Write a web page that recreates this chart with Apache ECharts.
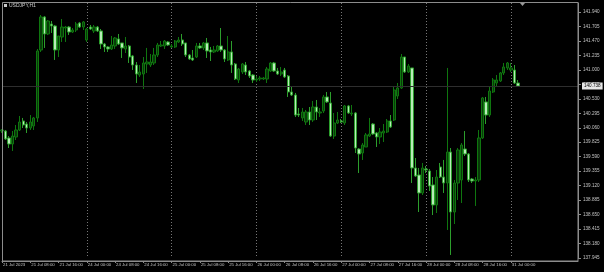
<!DOCTYPE html>
<html>
<head>
<meta charset="utf-8">
<script src="https://cdn.jsdelivr.net/npm/echarts@6/dist/echarts.min.js"></script>
<style>
html,body{margin:0;padding:0;background:#000;}
#c{width:604px;height:272px;}
</style>
</head>
<body>
<div id="c"></div>
<script>
// ---- data (USDJPY, H1) ----
const dayNames = ['21 Jul','24 Jul','25 Jul','26 Jul','27 Jul','28 Jul','31 Jul'];
const slotCount = 164;
const opens = [
140.007,140.007,139.894,139.796,139.910,140.024,140.170,140.121,140.056,140.089,
140.219,141.323,141.859,141.583,141.745,141.713,141.323,141.534,141.680,141.696,
141.615,141.648,141.761,141.696,141.485,141.696,141.632,141.696,141.632,141.420,
141.372,141.339,141.388,141.502,141.437,141.339,141.388,141.226,141.079,140.917,
140.933,141.096,141.079,141.112,141.242,141.388,141.388,141.453,141.372,141.372,
141.453,141.485,141.437,141.242,141.193,141.209,141.388,141.356,141.437,141.323,
141.291,141.307,141.388,141.323,141.161,141.291,141.096,140.836,140.966,141.079,
140.982,140.917,140.836,140.852,140.852,140.852,140.982,141.112,140.982,140.933,
140.998,140.901,140.641,140.592,140.284,140.219,140.154,140.316,140.186,140.397,
140.300,140.332,140.560,140.462,139.926,140.137,140.170,140.137,140.414,140.284,
140.300,139.715,139.650,139.748,139.926,140.121,139.975,139.910,139.975,139.991,
140.170,140.186,140.576,140.706,141.209,140.966,141.031,139.407,139.293,139.001,
139.390,139.358,139.131,138.806,139.423,139.260,139.163,139.666,138.692,139.163,
139.212,139.715,139.634,139.228,139.195,139.212,139.894,140.479,140.267,140.641,
140.787,140.820,140.950,141.031,140.998,140.998,140.787
];
const closes = [
140.024,139.878,139.796,139.926,140.024,140.154,140.105,140.056,140.154,140.219,
141.307,141.859,141.583,141.794,141.713,141.323,141.550,141.696,141.696,141.615,
141.648,141.745,141.696,141.778,141.664,141.664,141.696,141.632,141.420,141.372,
141.339,141.404,141.518,141.420,141.356,141.388,141.209,141.079,140.933,140.966,
141.112,141.128,141.128,141.242,141.404,141.404,141.469,141.404,141.388,141.469,
141.485,141.420,141.242,141.177,141.161,141.388,141.356,141.437,141.307,141.291,
141.323,141.388,141.323,141.177,141.291,141.079,140.852,141.014,141.096,140.966,
140.901,140.836,140.852,140.868,140.868,141.014,141.112,140.982,140.933,140.966,
140.885,140.641,140.592,140.267,140.267,140.316,140.316,140.186,140.397,140.316,
140.316,140.560,140.479,139.926,140.137,140.186,140.154,140.414,140.300,140.300,
139.731,139.634,139.780,139.943,139.959,139.959,139.910,139.991,140.007,140.170,
140.072,140.673,140.706,141.209,140.966,141.063,139.407,139.277,139.001,139.407,
139.374,139.114,138.806,139.260,139.260,139.163,139.666,138.692,139.163,139.699,
139.780,139.634,139.212,139.195,139.212,139.894,140.544,140.267,140.657,140.836,
140.836,140.950,141.047,141.112,141.031,140.787,140.738
];
const lows = [
139.975,139.861,139.731,139.683,139.861,140.007,140.056,139.975,140.024,140.024,
140.154,141.291,141.356,141.567,141.599,141.161,141.209,141.453,141.453,141.567,
141.599,141.615,141.680,141.648,141.453,141.648,141.599,141.615,141.339,141.291,
141.291,141.323,141.339,141.404,141.193,141.274,141.112,140.998,140.787,140.885,
140.690,140.950,141.047,141.079,141.209,141.372,141.339,141.388,141.356,141.356,
141.437,141.388,141.209,141.161,141.144,141.193,141.339,141.323,141.193,141.144,
141.274,141.291,141.291,141.128,141.144,140.950,140.836,140.787,140.933,140.917,
140.868,140.787,140.803,140.820,140.836,140.787,140.966,140.966,140.917,140.901,
140.868,140.560,140.576,140.235,140.235,140.170,140.105,140.105,140.154,140.186,
140.235,140.300,140.462,139.910,139.878,140.121,140.137,140.105,140.284,140.251,
139.650,139.325,139.537,139.748,139.910,139.943,139.748,139.796,139.829,139.975,
140.056,140.170,140.527,140.690,140.950,140.950,139.163,139.260,138.692,138.968,
139.325,139.033,138.643,138.676,139.244,139.001,138.400,137.994,138.497,138.887,
138.838,139.601,139.179,139.163,138.790,139.179,139.878,140.121,140.235,140.625,
140.722,140.803,140.917,140.998,140.966,140.771,140.722
];
const highs = [
140.040,140.024,139.926,140.007,140.105,140.251,140.219,140.154,140.267,140.235,
141.339,141.891,141.875,141.810,141.794,141.729,141.550,141.826,141.713,141.713,
141.680,141.778,141.778,141.794,141.680,141.729,141.729,141.713,141.664,141.437,
141.388,141.550,141.534,141.583,141.437,141.534,141.404,141.242,141.128,141.079,
141.209,141.356,141.258,141.356,141.437,141.469,141.485,141.469,141.420,141.485,
141.534,141.583,141.437,141.258,141.323,141.437,141.437,141.453,141.518,141.372,
141.388,141.404,141.680,141.339,141.550,141.469,141.112,141.031,141.112,141.128,
140.998,140.933,140.901,140.901,140.885,141.047,141.128,141.128,141.031,141.047,
141.031,140.917,140.722,140.625,140.381,140.381,140.349,140.397,140.495,140.511,
140.381,140.592,140.641,140.641,140.300,140.316,140.202,140.430,140.430,140.430,
140.316,139.731,139.812,139.975,140.219,140.137,139.991,140.056,140.121,140.202,
140.267,140.722,140.787,141.258,141.209,141.096,141.031,139.569,139.407,139.488,
139.439,139.390,139.260,139.374,139.488,139.537,141.031,139.731,139.212,139.731,
139.812,140.007,139.650,139.244,139.260,140.024,140.560,140.560,140.722,140.868,
140.917,140.966,141.112,141.128,141.112,141.079,140.836
];
const yMin = 137.945, yMax = 142.086, yStep = 0.235;

// ---- build ----
const categories = [];
for (let i = 0; i < slotCount; i++) {
  const d = dayNames[Math.floor(i / 24)];
  const h = i % 24;
  categories.push(i === 0 ? '21 Jul 2023' : d + ' ' + String(h).padStart(2, '0') + ':00');
}
const candles = opens.map((o, i) => [o, closes[i], lows[i], highs[i]]);
const lastClose = closes[closes.length - 1];

const chart = echarts.init(document.getElementById('c'), null, {renderer: 'canvas'});
const FONT = 'Liberation Sans';
chart.setOption({
  backgroundColor: '#000',
  animation: false,
  grid: {left: 2, right: 26, top: 3, bottom: 14, containLabel: false},
  xAxis: {
    type: 'category',
    data: categories,
    boundaryGap: false,
    offset: 3,
    axisLine: {show: true, lineStyle: {color: '#8c8c8c', width: 1}},
    axisTick: {show: true, length: 2, lineStyle: {color: '#8c8c8c'},
      interval: (idx) => idx % 8 === 0 && idx <= 144},
    axisLabel: {show: true, color: '#c4c4c4', fontSize: 4.3, fontFamily: FONT,
      align: 'left', margin: 2, padding: [0, 0, 0, 1],
      interval: (idx) => idx % 8 === 0 && idx <= 144},
    splitLine: {show: true, lineStyle: {color: '#767676', width: 1, type: [1, 2]},
      interval: (idx) => idx % 24 === 0 && idx > 0 && idx <= 144}
  },
  yAxis: {
    type: 'value',
    position: 'right',
    scale: true,
    min: yMin,
    max: yMax,
    interval: yStep,
    axisLine: {show: true, lineStyle: {color: '#8c8c8c', width: 1}},
    axisTick: {show: true, length: 3, inside: false, lineStyle: {color: '#8c8c8c'}},
    axisLabel: {show: true, color: '#c4c4c4', fontSize: 4.6, fontFamily: FONT, margin: 5,
      showMaxLabel: false, formatter: (v) => v.toFixed(3)},
    splitLine: {show: false}
  },
  series: [{
    type: 'candlestick',
    data: candles,
    barWidth: 2.8,
    itemStyle: {
      color: '#093a09',
      color0: '#b8ecb8',
      borderColor: '#0f760f',
      borderColor0: '#2c9e2c',
      borderWidth: 1
    },
    markLine: {
      silent: true,
      symbol: 'none',
      precision: 3,
      animation: false,
      lineStyle: {color: '#2e2e2e', width: 1, type: 'solid'},
      label: {show: true, position: 'end', distance: 4, formatter: (p) => Number(p.value).toFixed(3),
        color: '#000', backgroundColor: '#e6e6e6', fontSize: 4.6, fontFamily: FONT, padding: [1, 2]},
      data: [{yAxis: lastClose}]
    }
  }],
  graphic: [
    {type: 'rect', silent: true, z: 100,
     shape: {x: 2.5, y: 2.5, width: 575.5, height: 258.5},
     style: {fill: null, stroke: '#8c8c8c', lineWidth: 1}},
    {type: 'rect', silent: true, z: 100, shape: {x: 4, y: 4, width: 3, height: 3},
     style: {fill: '#c8c8c8'}},
    {type: 'text', silent: true, z: 100, x: 9, y: 3,
     style: {text: 'USDJPY,H1', fill: '#d0d0d0', fontSize: 5, fontFamily: FONT}},
    {type: 'polygon', silent: true, z: 100,
     shape: {points: [[520, 3], [525, 3], [522.5, 6]]},
     style: {fill: '#9a9a9a'}}
  ]
});
</script>
</body>
</html>
